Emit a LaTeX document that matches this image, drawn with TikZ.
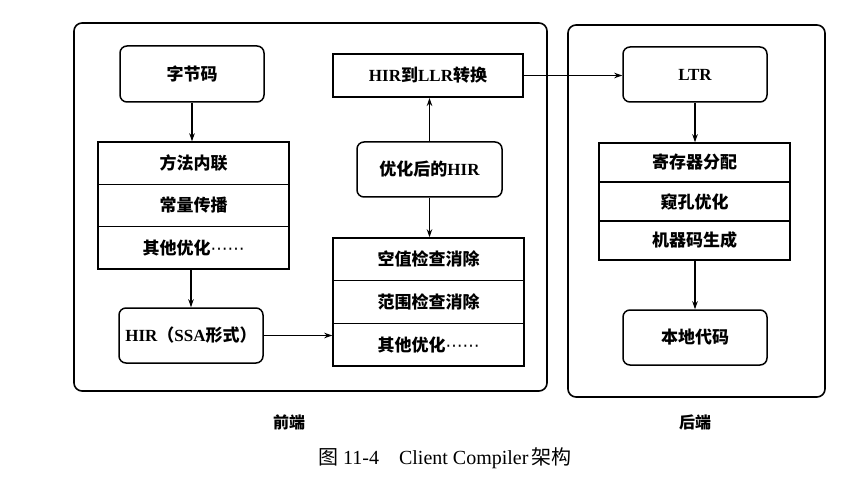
\documentclass[tikz,border=0pt]{standalone}
\usepackage{fontspec}
\setmainfont{Liberation Serif}
\newfontfamily\cjk{Noto Sans CJK SC}
\newfontfamily\lat{Liberation Serif}
\newfontfamily\dv{DejaVu Sans}
\newcommand{\mydots}{{\dv\mdseries ⋯⋯}}
\usetikzlibrary{arrows.meta}
\begin{document}
\begin{tikzpicture}[x=1pt,y=-1pt,
  every node/.style={font=\fontsize{17}{19}\selectfont\cjk\bfseries},
  container/.style={draw,line width=1.6pt,rounded corners=8pt},
  rbox/.style={draw,line width=1.5pt,rounded corners=7pt,inner sep=0pt},
  sbox/.style={draw,line width=2pt,inner sep=0pt},
  cell/.style={draw,line width=1.5pt,inner sep=0pt,minimum width=191pt},
  conn/.style={line width=1.1pt,-{Stealth[length=8pt,width=5.5pt]}},
  lbl/.style={font=\fontsize{16}{18}\selectfont\cjk\bfseries}]
\useasboundingbox (0,0) rectangle (864,494);
\fill[white] (0,0) rectangle (864,494);
% containers
\draw[container] (74,23) rectangle (547,391);
\draw[container] (568,25) rectangle (825,397);
% front-end left column
\node[rbox,minimum width=144pt,minimum height=56pt] (bc) at (192,74) {字节码};
\node[cell,minimum height=42.3pt] (l1) at (193.5,163.2) {方法内联};
\node[cell,minimum height=42.3pt] (l2) at (193.5,205.5) {常量传播};
\node[cell,minimum height=42.3pt] (l3) at (193.5,247.8) {其他优化\mydots};
\node[rbox,minimum width=144pt,minimum height=55pt] (ssa) at (191,335.5) {\lat\bfseries HIR\cjk （\lat\bfseries SSA\cjk 形式）};
% front-end right column
\node[sbox,minimum width=190pt,minimum height=43pt] (llr) at (428,75.5) {\lat\bfseries HIR\cjk 到\lat\bfseries LLR\cjk 转换};
\node[rbox,minimum width=145pt,minimum height=55pt] (opt) at (429.5,169.5) {优化后的\lat\bfseries HIR};
\node[cell,minimum height=42.7pt] (r1) at (428.5,259.3) {空值检查消除};
\node[cell,minimum height=42.7pt] (r2) at (428.5,302) {范围检查消除};
\node[cell,minimum height=42.7pt] (r3) at (428.5,344.7) {其他优化\mydots};
% back-end
\node[rbox,minimum width=144pt,minimum height=55pt] (ltr) at (695,74.5) {\lat\bfseries LTR};
\node[cell,minimum height=39pt] (b1) at (694.5,162.5) {寄存器分配};
\node[cell,minimum height=39pt] (b2) at (694.5,201.5) {窥孔优化};
\node[cell,minimum height=39pt] (b3) at (694.5,240.5) {机器码生成};
\node[rbox,minimum width=144pt,minimum height=55pt] (nat) at (695,337.5) {本地代码};
% connectors
\draw[conn] (bc.south) -- (bc.south |- l1.north);
\draw[conn] (l3.south -| ssa.north) -- (ssa.north);
\draw[conn] (ssa.east) -- (ssa.east -| r3.west);
\draw[conn] (opt.north) -- (opt.north |- llr.south);
\draw[conn] (opt.south) -- (opt.south |- r1.north);
\draw[conn] (llr.east) -- (llr.east -| ltr.west);
\draw[conn] (ltr.south) -- (ltr.south |- b1.north);
\draw[conn] (b3.south -| nat.north) -- (nat.north);
% labels
\node[lbl] (fe) at (289,422) {前端};
\node[lbl] (be) at (695,422) {后端};
\node[font=\fontsize{20}{22}\selectfont\lat] (cap) at (445,458) {\cjk 图\lat\ 11-4\quad Client Compiler\,\cjk 架构};
\end{tikzpicture}
\end{document}
